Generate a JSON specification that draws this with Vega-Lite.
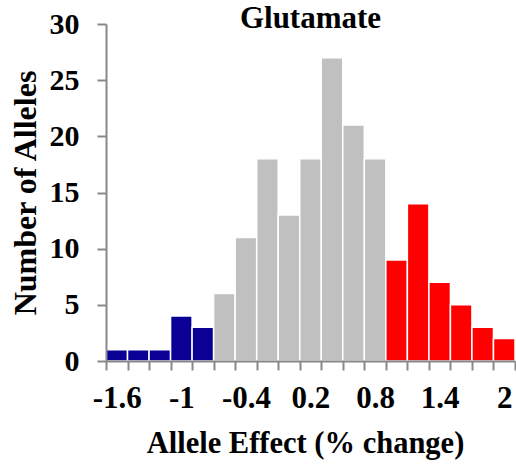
{
  "$schema": "https://vega.github.io/schema/vega-lite/v6.json",
  "width": 409,
  "height": 337,
  "autosize": "none",
  "padding": {"left": 106, "top": 24, "right": 1, "bottom": 104},
  "background": "white",
  "title": {
    "text": "Glutamate",
    "font": "Liberation Serif",
    "fontSize": 31,
    "fontWeight": "bold",
    "color": "black",
    "anchor": "middle",
    "frame": "group",
    "offset": -26
  },
  "config": {"view": {"stroke": null}},
  "data": {
    "values": [
      {"start": -1.7, "end": -1.5, "count": 1, "group": "low"},
      {"start": -1.5, "end": -1.3, "count": 1, "group": "low"},
      {"start": -1.3, "end": -1.1, "count": 1, "group": "low"},
      {"start": -1.1, "end": -0.9, "count": 4, "group": "low"},
      {"start": -0.9, "end": -0.7, "count": 3, "group": "low"},
      {"start": -0.7, "end": -0.5, "count": 6, "group": "mid"},
      {"start": -0.5, "end": -0.3, "count": 11, "group": "mid"},
      {"start": -0.3, "end": -0.1, "count": 18, "group": "mid"},
      {"start": -0.1, "end": 0.1, "count": 13, "group": "mid"},
      {"start": 0.1, "end": 0.3, "count": 18, "group": "mid"},
      {"start": 0.3, "end": 0.5, "count": 27, "group": "mid"},
      {"start": 0.5, "end": 0.7, "count": 21, "group": "mid"},
      {"start": 0.7, "end": 0.9, "count": 18, "group": "mid"},
      {"start": 0.9, "end": 1.1, "count": 9, "group": "high"},
      {"start": 1.1, "end": 1.3, "count": 14, "group": "high"},
      {"start": 1.3, "end": 1.5, "count": 7, "group": "high"},
      {"start": 1.5, "end": 1.7, "count": 5, "group": "high"},
      {"start": 1.7, "end": 1.9, "count": 3, "group": "high"},
      {"start": 1.9, "end": 2.1, "count": 2, "group": "high"}
    ]
  },
  "mark": {"type": "bar", "stroke": "white", "strokeWidth": 1.5},
  "encoding": {
    "x": {
      "field": "start",
      "type": "quantitative",
      "scale": {"domain": [-1.7, 2.1], "nice": false, "zero": false},
      "axis": {
        "title": "Allele Effect (% change)",
        "values": [-1.7, -1.5, -1.3, -1.1, -0.9, -0.7, -0.5, -0.3, -0.1, 0.1, 0.3, 0.5, 0.7, 0.9, 1.1, 1.3, 1.5, 1.7, 1.9, 2.1],
        "labelExpr": "indexof([-1.7, -1.1, -0.5, 0.1, 0.7, 1.3, 1.9], datum.value) >= 0 ? '' + (round((datum.value + 0.1) * 10) / 10) : ''",
        "labelOffset": 10.76,
        "labelOverlap": false,
        "labelBound": false,
        "labelFlush": false,
        "labelFont": "Liberation Serif",
        "labelFontSize": 31,
        "labelFontWeight": "bold",
        "labelColor": "black",
        "labelPadding": 13,
        "titleFont": "Liberation Serif",
        "titleFontSize": 30.5,
        "titleFontWeight": "bold",
        "titleColor": "black",
        "titlePadding": 15,
        "titleX": 199,
        "domainColor": "#888888",
        "domainWidth": 2,
        "tickColor": "#888888",
        "tickWidth": 2,
        "tickSize": 9,
        "grid": false,
        "zindex": 1
      }
    },
    "x2": {"field": "end"},
    "y": {
      "field": "count",
      "type": "quantitative",
      "scale": {"domain": [0, 30], "nice": false},
      "axis": {
        "title": "Number of Alleles",
        "values": [0, 5, 10, 15, 20, 25, 30],
        "labelFont": "Liberation Serif",
        "labelFontSize": 30,
        "labelFontWeight": "bold",
        "labelColor": "black",
        "labelPadding": 18,
        "titleFont": "Liberation Serif",
        "titleFontSize": 32,
        "titleFontWeight": "bold",
        "titleColor": "black",
        "titlePadding": 7,
        "domainColor": "#888888",
        "domainWidth": 2,
        "tickColor": "#888888",
        "tickWidth": 2,
        "tickSize": 9,
        "grid": false,
        "zindex": 1
      }
    },
    "y2": {"datum": 0},
    "color": {
      "field": "group",
      "type": "nominal",
      "scale": {"domain": ["low", "mid", "high"], "range": ["#0a0096", "#c0c0c0", "#ff0000"]},
      "legend": null
    }
  }
}
